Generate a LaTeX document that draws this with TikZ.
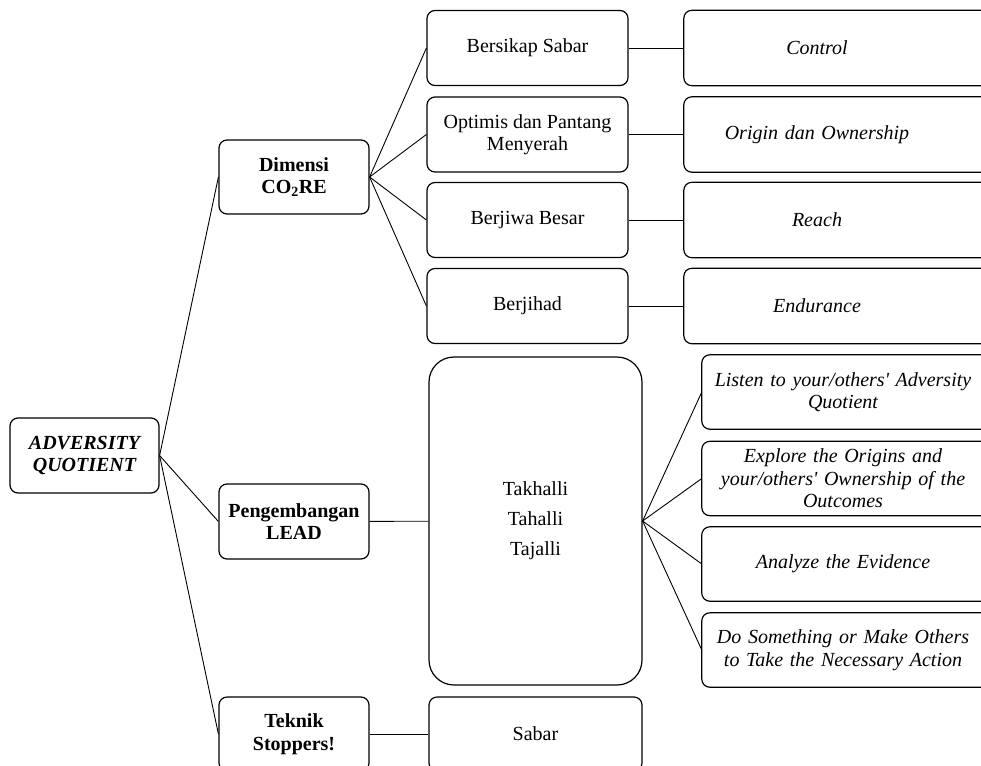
\documentclass[tikz,border=0pt]{standalone}
\usepackage{fontspec}
\setmainfont{Liberation Serif}
\begin{document}
\begin{tikzpicture}[x=1pt,y=-1pt,
	cbox/.style={draw, line width=1.2pt, rounded corners=8pt, align=center, inner sep=0pt,
		minimum width=150pt, minimum height=74pt, font=\fontsize{20}{22.5}\selectfont},
	hub/.style={cbox, font=\fontsize{20}{22.5}\selectfont\bfseries},
	rtext/.style={align=center, inner sep=0pt, minimum height=74pt,
		font=\fontsize{20}{22.5}\selectfont\itshape},
	rframe/.style={draw, line width=1.2pt, rounded corners=8pt},
	link/.style={line width=0.9pt}]
	\useasboundingbox (0,0) rectangle (981,765);
	\clip (0,0) rectangle (981,765);
	% root and hubs
	\node[hub, minimum width=149pt, minimum height=75pt, font=\fontsize{20}{22.5}\selectfont\bfseries\itshape] (aq) at (84.5,455.5) {ADVERSITY\\QUOTIENT};
	\node[hub] (dim) at (294,177) {Dimensi\\CO\textsubscript{2}RE};
	\node[hub, minimum height=75pt] (lead) at (294,521.5) {Pengembangan\\LEAD};
	\node[hub] (tek) at (294,734) {Teknik\\Stoppers!};
	% second level
	\node[cbox, minimum width=201pt, minimum height=75pt] (sabar1) at (527.5,48) {Bersikap Sabar};
	\node[cbox, minimum width=201pt, minimum height=75pt] (optimis) at (527.5,134.5) {Optimis dan Pantang\\Menyerah};
	\node[cbox, minimum width=201pt, minimum height=75pt] (jiwa) at (527.5,220) {Berjiwa Besar};
	\node[cbox, minimum width=201pt, minimum height=75pt] (jihad) at (527.5,306) {Berjihad};
	\node[cbox, minimum width=213pt, minimum height=328pt, rounded corners=25pt,
		font=\fontsize{20}{30}\selectfont] (takh) at (535.5,521) {Takhalli\\Tahalli\\Tajalli};
	\node[cbox, minimum width=213pt] (sabar2) at (535.5,734) {Sabar};
	% third level (boxes run off the right edge)
	\node[rtext, text width=266pt, minimum height=75pt] (ctrl) at (817,48) {Control};
	\node[rtext, text width=266pt, minimum height=75pt] (orig) at (817,134.5) {Origin dan Ownership};
	\node[rtext, text width=266pt, minimum height=75pt] (reach) at (817,220) {Reach};
	\node[rtext, text width=266pt, minimum height=75pt] (endu) at (817,306) {Endurance};
	\node[rtext, text width=282pt] (listen) at (843,392) {Listen to your/others\textquotesingle{} Adversity\\Quotient};
	\node[rtext, text width=282pt] (explore) at (843,478.5) {Explore the Origins and\\your/others\textquotesingle{} Ownership of the\\Outcomes};
	\node[rtext, text width=282pt] (analyze) at (843,564) {Analyze the Evidence};
	\node[rtext, text width=282pt] (action) at (843,650) {Do Something or Make Others\\to Take the Necessary Action};
	\draw[rframe] (ctrl.north west) rectangle ([xshift=60pt]ctrl.south east);
	\draw[rframe] (orig.north west) rectangle ([xshift=60pt]orig.south east);
	\draw[rframe] (reach.north west) rectangle ([xshift=60pt]reach.south east);
	\draw[rframe] (endu.north west) rectangle ([xshift=60pt]endu.south east);
	\draw[rframe] (listen.north west) rectangle ([xshift=60pt]listen.south east);
	\draw[rframe] (explore.north west) rectangle ([xshift=60pt]explore.south east);
	\draw[rframe] (analyze.north west) rectangle ([xshift=60pt]analyze.south east);
	\draw[rframe] (action.north west) rectangle ([xshift=60pt]action.south east);
	% connectors
	\draw[link] (aq.east) -- (dim.west);
	\draw[link] (aq.east) -- (lead.west);
	\draw[link] (aq.east) -- (tek.west);
	\draw[link] (dim.east) -- (sabar1.west);
	\draw[link] (dim.east) -- (optimis.west);
	\draw[link] (dim.east) -- (jiwa.west);
	\draw[link] (dim.east) -- (jihad.west);
	\draw[link] (sabar1) -- (ctrl);
	\draw[link] (optimis) -- (orig);
	\draw[link] (jiwa) -- (reach);
	\draw[link] (jihad) -- (endu);
	\draw[link] (lead) -- (takh);
	\draw[link] (takh.east) -- (listen.west);
	\draw[link] (takh.east) -- (explore.west);
	\draw[link] (takh.east) -- (analyze.west);
	\draw[link] (takh.east) -- (action.west);
	\draw[link] (tek) -- (sabar2);
\end{tikzpicture}
\end{document}
